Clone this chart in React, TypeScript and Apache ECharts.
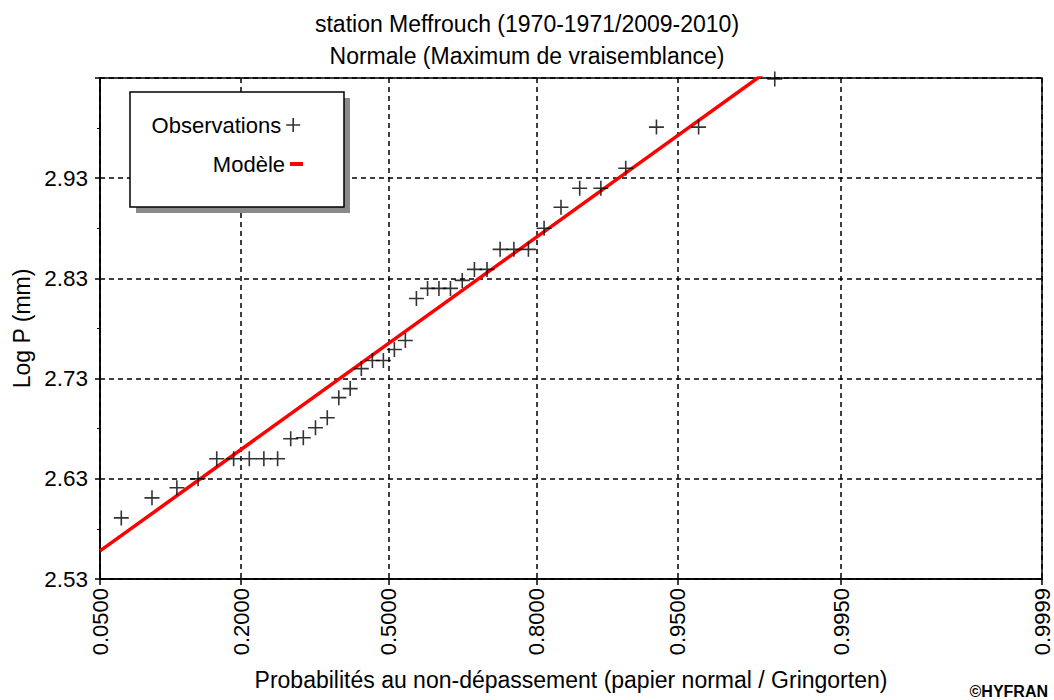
import React, { useEffect, useRef } from "react";
import * as echarts from "echarts";

// ---- data ----
const titleLine1 = "station Meffrouch (1970-1971/2009-2010)";
const titleLine2 = "Normale (Maximum de vraisemblance)";
const xAxisName = "Probabilités au non-dépassement (papier normal / Gringorten)";
const yAxisName = "Log P (mm)";

// probability tick labels of the normal-paper x axis
const probTicks = [0.05, 0.2, 0.5, 0.8, 0.95, 0.995, 0.9999];
const probTickLabels = ["0.0500", "0.2000", "0.5000", "0.8000", "0.9500", "0.9950", "0.9999"];

// y axis (log P)
const yMin = 2.53;
const yMax = 3.03;
const yInterval = 0.1;

// observations: non-exceedance probability (Gringorten) and log P
const obsProb = [
  0.0638, 0.0887, 0.1137, 0.1386, 0.1635, 0.1884, 0.2134, 0.2383, 0.2632, 0.2881,
  0.3131, 0.338, 0.3629, 0.3878, 0.4128, 0.4377, 0.4626, 0.4875, 0.5125, 0.5374,
  0.5623, 0.5872, 0.6122, 0.6371, 0.662, 0.6869, 0.7119, 0.7368, 0.7617, 0.7866,
  0.8116, 0.8365, 0.8614, 0.8863, 0.9113, 0.9362, 0.9611, 0.986,
];
const obsLogP = [
  2.591, 2.611, 2.621, 2.63, 2.65, 2.65, 2.65, 2.65, 2.65, 2.67,
  2.671, 2.681, 2.691, 2.711, 2.72, 2.74, 2.748, 2.748, 2.759, 2.768,
  2.81, 2.82, 2.82, 2.82, 2.828, 2.839, 2.839, 2.859, 2.859, 2.859,
  2.88, 2.901, 2.92, 2.92, 2.94, 2.981, 2.981, 3.029,
];

// fitted model (straight line on normal paper)
const modelProb = [0.05, 0.9999];
const modelLogP = [2.558, 3.234];

// inverse standard normal CDF (Acklam) – axis transform of the normal paper
function normInv(p: number): number {
  const a = [-3.969683028665376e1, 2.209460984245205e2, -2.759285104469687e2, 1.38357751867269e2, -3.066479806614716e1, 2.506628277459239];
  const b = [-5.447609879822406e1, 1.615858368580409e2, -1.556989798598866e2, 6.680131188771972e1, -1.328068155288572e1];
  const c = [-7.784894002430293e-3, -3.223964580411365e-1, -2.400758277161838, -2.549732539343734, 4.374664141464968, 2.938163982698783];
  const d = [7.784695709041462e-3, 3.224671290700398e-1, 2.445134137142996, 3.754408661907416];
  const pl = 0.02425;
  const ph = 1 - pl;
  if (p < pl) {
    const q = Math.sqrt(-2 * Math.log(p));
    return (((((c[0] * q + c[1]) * q + c[2]) * q + c[3]) * q + c[4]) * q + c[5]) / ((((d[0] * q + d[1]) * q + d[2]) * q + d[3]) * q + 1);
  }
  if (p <= ph) {
    const q = p - 0.5;
    const r = q * q;
    return ((((((a[0] * r + a[1]) * r + a[2]) * r + a[3]) * r + a[4]) * r + a[5]) * q) / (((((b[0] * r + b[1]) * r + b[2]) * r + b[3]) * r + b[4]) * r + 1);
  }
  const q = Math.sqrt(-2 * Math.log(1 - p));
  return -(((((c[0] * q + c[1]) * q + c[2]) * q + c[3]) * q + c[4]) * q + c[5]) / ((((d[0] * q + d[1]) * q + d[2]) * q + d[3]) * q + 1);
}

const FONT = "'Liberation Sans', Arial, sans-serif";
const PLUS = "path://M7,0L7,14M0,7L14,7";

export default function App() {
  const ref = useRef<HTMLDivElement>(null);

  useEffect(() => {
    if (!ref.current) return;
    const chart = echarts.init(ref.current, undefined, { renderer: "svg" });

    const zTicks = probTicks.map(normInv);
    const labelFor = (v: number) => {
      for (let i = 0; i < zTicks.length; i++) {
        if (Math.abs(zTicks[i] - v) < 1e-6) return probTickLabels[i];
      }
      return "";
    };

    const obsData = obsProb.map((p, i) => [normInv(p), obsLogP[i]]);
    const modelData = modelProb.map((p, i) => [normInv(p), modelLogP[i]]);

    chart.setOption({
      animation: false,
      backgroundColor: "#ffffff",
      textStyle: { fontFamily: FONT, color: "#000" },
      title: [
        {
          text: titleLine1,
          left: "center",
          top: 12,
          padding: 0,
          textStyle: { fontFamily: FONT, fontSize: 23, fontWeight: "normal", color: "#000" },
        },
        {
          text: titleLine2,
          left: "center",
          top: 44,
          padding: 0,
          textStyle: { fontFamily: FONT, fontSize: 23, fontWeight: "normal", color: "#000" },
        },
      ],
      grid: {
        left: 100,
        right: 12,
        top: 78,
        bottom: 121,
        show: true,
        borderColor: "#000",
        borderWidth: 1.5,
        backgroundColor: "transparent",
        outerBoundsMode: "none",
      },
      legend: [
        {
          data: [
            {
              name: "Observations",
              icon: PLUS,
              itemStyle: { color: "transparent", borderColor: "#000", borderWidth: 1.6 },
            },
          ],
          orient: "vertical",
          align: "right",
          right: 753,
          top: 113,
          padding: 0,
          itemWidth: 14,
          itemHeight: 14,
          selectedMode: false,
          z: 20,
          textStyle: { fontFamily: FONT, fontSize: 22, color: "#000", lineHeight: 24 },
        },
        {
          data: [
            {
              name: "Modèle",
              icon: "rect",
              itemStyle: { color: "#ff0000" },
            },
          ],
          orient: "vertical",
          align: "right",
          right: 751,
          top: 152,
          padding: 0,
          itemWidth: 13,
          itemHeight: 4,
          selectedMode: false,
          z: 20,
          textStyle: { fontFamily: FONT, fontSize: 22, color: "#000", lineHeight: 24 },
        },
      ],
      xAxis: {
        type: "value",
        min: zTicks[0],
        max: zTicks[zTicks.length - 1],
        name: xAxisName,
        nameLocation: "middle",
        nameGap: 89,
        nameTextStyle: { fontFamily: FONT, fontSize: 23, color: "#000" },
        axisLine: { show: true, onZero: false, lineStyle: { color: "#000", width: 1.5 } },
        axisTick: {
          show: true,
          inside: false,
          length: 6,
          customValues: zTicks,
          lineStyle: { color: "#000", width: 1.5 },
        },
        axisLabel: {
          customValues: zTicks,
          rotate: 90,
          margin: 9,
          fontFamily: FONT,
          fontSize: 22,
          lineHeight: 17,
          color: "#000",
          formatter: (v: number) => labelFor(v),
        },
        splitLine: {
          show: true,
          lineStyle: { color: "#000", width: 1.5, type: [5, 4] },
        },
      },
      yAxis: {
        type: "value",
        min: yMin,
        max: yMax,
        interval: yInterval,
        name: yAxisName,
        nameLocation: "middle",
        nameGap: 63,
        nameTextStyle: { fontFamily: FONT, fontSize: 23, color: "#000" },
        axisLine: { show: true, onZero: false, lineStyle: { color: "#000", width: 1.5 } },
        axisTick: { show: true, length: 5, lineStyle: { color: "#000", width: 1.5 } },
        minorTick: { show: true, splitNumber: 2, length: 3, lineStyle: { color: "#000", width: 1 } },
        axisLabel: {
          margin: 12,
          fontFamily: FONT,
          fontSize: 22.5,
          color: "#000",
          showMaxLabel: false,
          formatter: (v: number) => v.toFixed(2),
        },
        splitLine: {
          show: true,
          lineStyle: { color: "#000", width: 1.5, type: [5, 4] },
        },
      },
      graphic: [
        {
          type: "rect",
          z: 10,
          shape: { x: 136, y: 98, width: 214, height: 115 },
          style: { fill: "#8a8a8a" },
        },
        {
          type: "rect",
          z: 11,
          shape: { x: 130, y: 92, width: 214, height: 115 },
          style: { fill: "#ffffff", stroke: "#000", lineWidth: 1.5 },
        },
        {
          type: "text",
          z: 12,
          right: 6,
          top: 683,
          style: {
            text: "©HYFRAN",
            fontFamily: FONT,
            fontSize: 16,
            fontWeight: "bold",
            fill: "#000",
          },
        },
      ],
      series: [
        {
          name: "Modèle",
          type: "line",
          data: modelData,
          showSymbol: false,
          symbol: "none",
          clip: true,
          z: 3,
          lineStyle: { color: "#ff0000", width: 3.5 },
          itemStyle: { color: "#ff0000" },
        },
        {
          name: "Observations",
          type: "scatter",
          data: obsData,
          symbol: PLUS,
          symbolSize: 15,
          clip: true,
          z: 4,
          itemStyle: { color: "transparent", borderColor: "#000", borderWidth: 1.6 },
        },
      ],
    });

    return () => chart.dispose();
  }, []);

  return (
    <div
      ref={ref}
      style={{ position: "fixed", left: 0, top: 0, width: 1054, height: 700 }}
    />
  );
}
